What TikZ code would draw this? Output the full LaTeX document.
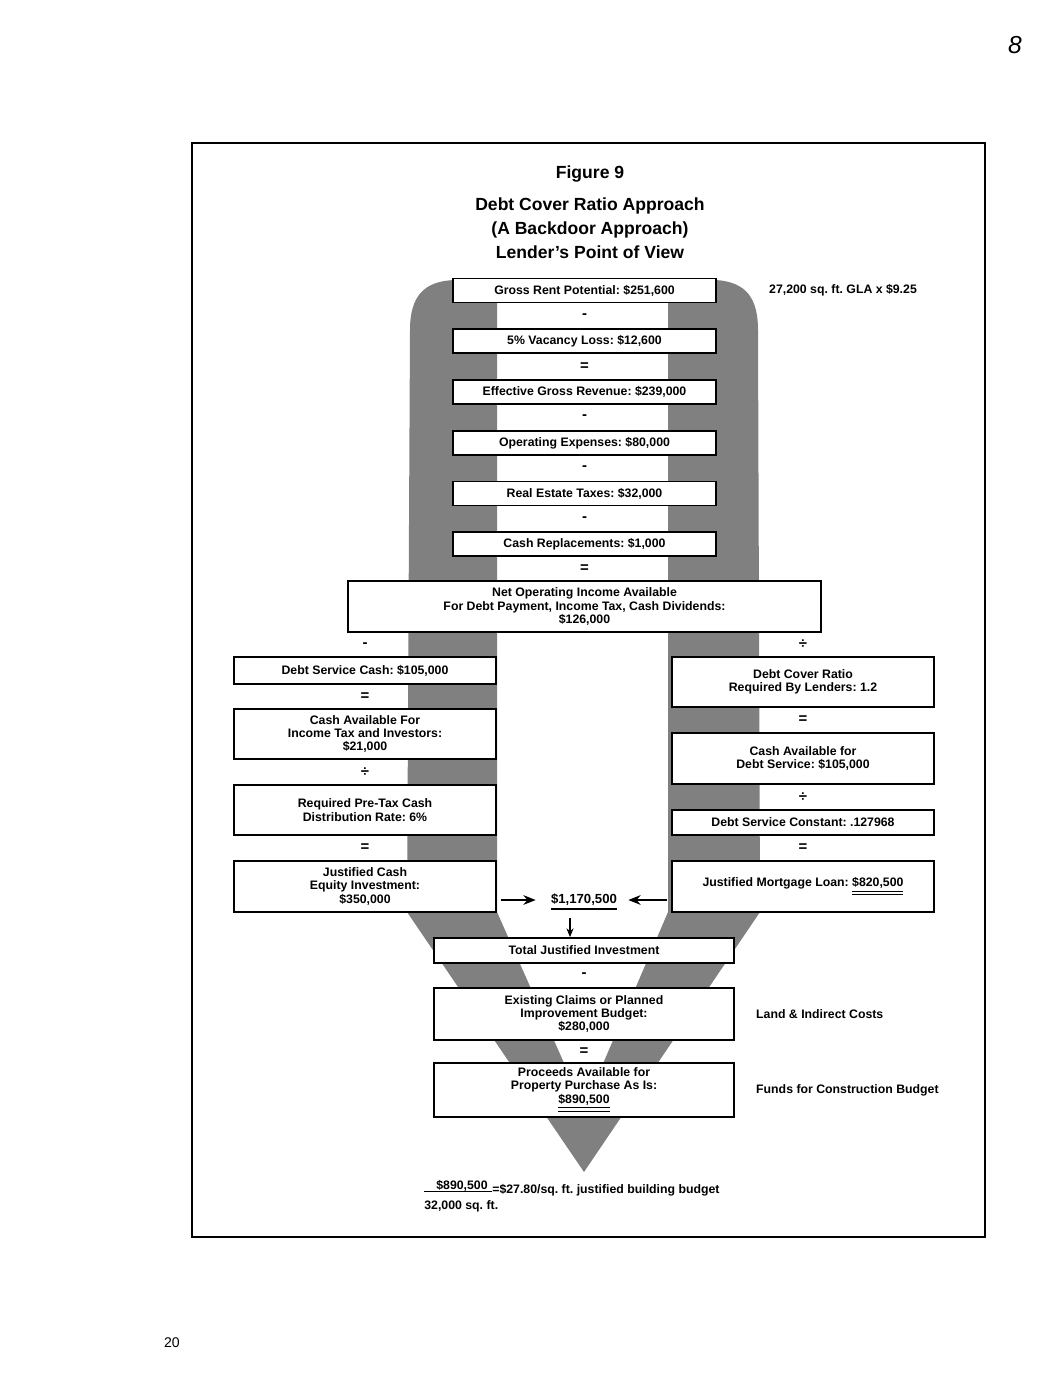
\documentclass[tikz,border=0pt]{standalone}
\usepackage{fontspec}
\setmainfont{Liberation Sans}
\usetikzlibrary{shapes,arrows,arrows.meta,positioning,calc}
\newcommand{\dblul}[1]{\underline{\underline{#1}}}
\frenchspacing

\begin{document}
\begin{tikzpicture}[x=0.02cm, y=-0.02cm, >={Stealth[length=7pt, width=5.5pt]},
    calcbox/.style={draw, rectangle, line width=1pt, fill=white, inner sep=0pt, align=center, font=\bfseries\fontsize{7}{7.6}\selectfont},
    cbox/.style={calcbox, minimum width=5.26cm, minimum height=0.48cm},
    sidebox/.style={calcbox, minimum width=5.24cm},
    opsign/.style={inner sep=0pt, font=\bfseries\fontsize{8.5}{8.5}\selectfont},
    note/.style={inner sep=0pt, align=left, font=\bfseries\fontsize{7}{7.6}\selectfont},
    funnel/.style={fill=black!50}]

    \useasboundingbox (0,0) rectangle (1061,1380);

    % Frame
    \draw[line width=1.2pt] (192,143) rectangle (985,1237);

    % Shaded funnel
    \fill[funnel, even odd rule]
      (410,330) .. controls (410,296) and (424,281) .. (455,280) -- (716,280)
      .. controls (746,282) and (758,298) .. (758,330) -- (760,912) -- (584,1172) -- (407,912) -- cycle
      (497,300) -- (668,300) -- (668,912) -- (584,1108) -- (497,912) -- cycle;

    % Title
    \node[font=\bfseries\fontsize{10}{12}\selectfont] (fig) at (590,174) {Figure 9};
    \node[align=center, font=\bfseries\fontsize{10}{13.6}\selectfont] (title) at (590,228)
      {Debt Cover Ratio Approach\\(A Backdoor Approach)\\Lender’s Point of View};

    % Income column
    \node[cbox] (grp) at (584.5,290.5) {Gross Rent Potential: \$251,600};
    \node[cbox, below=0.5cm of grp] (vac) {5\% Vacancy Loss: \$12,600};
    \node[cbox, below=0.5cm of vac] (egr) {Effective Gross Revenue: \$239,000};
    \node[cbox, below=0.5cm of egr] (opx) {Operating Expenses: \$80,000};
    \node[cbox, below=0.5cm of opx] (ret) {Real Estate Taxes: \$32,000};
    \node[cbox, below=0.5cm of ret] (crp) {Cash Replacements: \$1,000};
    \node[calcbox, minimum width=9.46cm, minimum height=1.02cm, below=0.465cm of crp] (noi)
      {Net Operating Income Available\\For Debt Payment, Income Tax, Cash Dividends:\\\$126,000};

    \node[opsign] (s1) at ($(grp.south)!0.5!(vac.north)$) {-};
    \node[opsign] (s2) at ($(vac.south)!0.5!(egr.north)$) {=};
    \node[opsign] (s3) at ($(egr.south)!0.5!(opx.north)$) {-};
    \node[opsign] (s4) at ($(opx.south)!0.5!(ret.north)$) {-};
    \node[opsign] (s5) at ($(ret.south)!0.5!(crp.north)$) {-};
    \node[opsign] (s6) at ($(crp.south)!0.5!(noi.north)$) {=};

    % Equity side
    \node[sidebox, minimum height=0.54cm] (dsc) at (365,670.5) {Debt Service Cash: \$105,000};
    \node[sidebox, minimum height=1.0cm, below=0.465cm of dsc] (cai) {Cash Available For\\Income Tax and Investors:\\\$21,000};
    \node[sidebox, minimum height=1.0cm, below=0.485cm of cai] (rpt) {Required Pre-Tax Cash\\Distribution Rate: 6\%};
    \node[sidebox, minimum height=1.02cm, below=0.485cm of rpt] (jce) {Justified Cash\\Equity Investment:\\\$350,000};

    \node[opsign] (l1) at ($(noi.south -| dsc)!0.5!(dsc.north)$) {-};
    \node[opsign] (l2) at ($(dsc.south)!0.5!(cai.north)$) {=};
    \node[opsign] (l3) at ($(cai.south)!0.5!(rpt.north)$) {÷};
    \node[opsign] (l4) at ($(rpt.south)!0.5!(jce.north)$) {=};

    % Lender side
    \node[sidebox, minimum height=1.0cm] (dcr) at (803,682) {Debt Cover Ratio\\Required By Lenders: 1.2};
    \node[sidebox, minimum height=1.02cm, below=0.485cm of dcr] (cad) {Cash Available for\\Debt Service: \$105,000};
    \node[sidebox, minimum height=0.5cm, below=0.485cm of cad] (dsk) {Debt Service Constant: .127968};
    \node[sidebox, minimum height=1.02cm, below=0.485cm of dsk] (jml) {Justified Mortgage Loan: \dblul{\$820,500}};

    \node[opsign] (r1) at ($(noi.south -| dcr)!0.5!(dcr.north)$) {÷};
    \node[opsign] (r2) at ($(dcr.south)!0.5!(cad.north)$) {=};
    \node[opsign] (r3) at ($(cad.south)!0.5!(dsk.north)$) {÷};
    \node[opsign] (r4) at ($(dsk.south)!0.5!(jml.north)$) {=};

    % Total
    \node[inner xsep=0pt, inner ysep=1.5pt, font=\bfseries\fontsize{7.5}{8}\selectfont] (res) at (584,900) {\$1,170,500};
    \draw[line width=1.3pt] (res.south west) -- (res.south east);

    \node[calcbox, minimum width=6cm, minimum height=0.5cm] (tot) at (584,950.5) {Total Justified Investment};
    \node[calcbox, minimum width=6cm, minimum height=1.04cm, below=0.465cm of tot] (ecl) {Existing Claims or Planned\\Improvement Budget:\\\$280,000};
    \node[calcbox, minimum width=6cm, minimum height=1.08cm, below=0.425cm of ecl] (pro) {Proceeds Available for\\Property Purchase As Is:\\\dblul{\$890,500}};

    \node[opsign] (b1) at ($(tot.south)!0.5!(ecl.north)$) {-};
    \node[opsign] (b2) at ($(ecl.south)!0.5!(pro.north)$) {=};

    % Side notes
    \node[note, right=1.04cm of grp] (gla) {27,200 sq. ft. GLA x \$9.25};
    \node[note, right=0.42cm of ecl] (lic) {Land \& Indirect Costs};
    \node[note, right=0.42cm of pro] (fcb) {Funds for Construction Budget};

    % Budget per square foot
    \node[note] (fnum) at (462,1186) {\$890,500};
    \node[note, anchor=west] (fden) at (424,1206) {32,000 sq. ft.};
    \node[note, anchor=west] (fres) at (492,1190) {=\$27.80/sq. ft. justified building budget};
    \draw[line width=0.6pt] ([yshift=0.16cm]fden.north west) -- ([yshift=0.16cm]fden.north west -| fres.west);

    % Page marks
    \node[font=\fontsize{8}{8}\selectfont] (pg) at (172,1343) {20};
    \node[font=\itshape\fontsize{14}{14}\selectfont] (hw) at (1015,45) {8};

    % Connections
    \draw[->, line width=1pt] ([xshift=0.08cm]jce.east |- res) -- ([xshift=-0.3cm]res.west);
    \draw[->, line width=1pt] ([xshift=-0.08cm]jml.west |- res) -- ([xshift=0.22cm]res.east);
    \draw[-{Stealth[length=5pt, width=4pt]}, line width=0.8pt] ([xshift=-0.28cm, yshift=-0.18cm]res.south) -- ([xshift=-0.28cm]tot.north);

\end{tikzpicture}
\end{document}
